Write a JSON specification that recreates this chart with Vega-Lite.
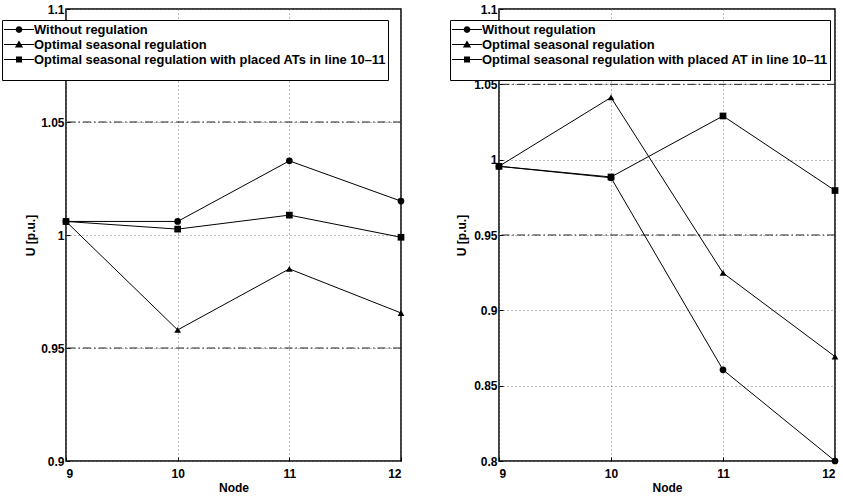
{
  "$schema": "https://vega.github.io/schema/vega-lite/v6.json",
  "padding": {"left": 0, "top": 2, "right": 0, "bottom": 0},
  "background": "white",
  "config": {
    "font": "Liberation Sans",
    "view": {"stroke": "black", "strokeWidth": 1.5},
    "axis": {
      "labelFont": "Liberation Sans", "labelFontWeight": "bold", "labelFontSize": 12, "labelColor": "black",
      "titleFont": "Liberation Sans", "titleFontWeight": "bold", "titleFontSize": 12, "titleColor": "black",
      "domain": false, "tickColor": "black", "tickSize": -4, "grid": true,
      "gridColor": "#777", "gridDash": [1, 3], "gridWidth": 1
    },
    "legend": {
      "fillColor": "white", "strokeColor": "black", "padding": 2,
      "labelFont": "Liberation Sans", "labelFontWeight": "bold", "labelFontSize": 12.9, "labelColor": "black",
      "labelLimit": 0,
      "symbolSize": 225, "symbolStrokeWidth": 0, "symbolFillColor": "black",
      "symbolOpacity": 1,
      "labelOffset": 15, "rowPadding": 0,
      "titleOrient": "bottom", "titleFontSize": 9, "titlePadding": 3
    }
  },
  "resolve": {"scale": {"shape": "independent"}, "legend": {"shape": "independent"}},
  "spacing": 38,
  "hconcat": [
    {
      "width": 335, "height": 452,
      "data": {"values": [
        {"node": 9, "series": "Without regulation", "U": 1.006},
        {"node": 10, "series": "Without regulation", "U": 1.006},
        {"node": 11, "series": "Without regulation", "U": 1.0328},
        {"node": 12, "series": "Without regulation", "U": 1.015},
        {"node": 9, "series": "Optimal seasonal regulation", "U": 1.006},
        {"node": 10, "series": "Optimal seasonal regulation", "U": 0.958},
        {"node": 11, "series": "Optimal seasonal regulation", "U": 0.985},
        {"node": 12, "series": "Optimal seasonal regulation", "U": 0.9655},
        {"node": 9, "series": "Optimal seasonal regulation with placed ATs in line 10–11", "U": 1.006},
        {"node": 10, "series": "Optimal seasonal regulation with placed ATs in line 10–11", "U": 1.0026},
        {"node": 11, "series": "Optimal seasonal regulation with placed ATs in line 10–11", "U": 1.0088},
        {"node": 12, "series": "Optimal seasonal regulation with placed ATs in line 10–11", "U": 0.999}
      ]},
      "resolve": {"scale": {"shape": "independent"}},
      "layer": [
        {
          "data": {"values": [{"lim": 0.95}, {"lim": 1.05}]},
          "mark": {"type": "rule", "color": "#222", "strokeDash": [8, 3, 1.5, 3], "strokeWidth": 1},
          "encoding": {
            "y": {"field": "lim", "type": "quantitative", "title": "U [p.u.]",
                  "scale": {"domain": [0.9, 1.1], "nice": false, "zero": false},
                  "axis": {"values": [0.9, 0.95, 1, 1.05, 1.1], "format": "~g", "labelPadding": 6, "titlePadding": 3}}
          }
        },
        {
          "mark": {"type": "line", "color": "black", "strokeWidth": 1},
          "encoding": {
            "x": {"field": "node", "type": "quantitative", "title": "Node",
                  "scale": {"domain": [9, 12], "nice": false, "zero": false},
                  "axis": {"values": [9, 10, 11, 12], "format": "d", "labelPadding": 11, "titlePadding": 3}},
            "y": {"field": "U", "type": "quantitative", "title": "U [p.u.]"},
            "detail": {"field": "series"},
            "order": {"field": "node"}
          }
        },
        {
          "mark": {"type": "point", "filled": true, "color": "black", "opacity": 1, "size": 45},
          "encoding": {
            "x": {"field": "node", "type": "quantitative", "title": "Node"},
            "y": {"field": "U", "type": "quantitative", "title": "U [p.u.]"},
            "shape": {"field": "series", "type": "nominal",
              "scale": {"domain": ["Without regulation", "Optimal seasonal regulation", "Optimal seasonal regulation with placed ATs in line 10–11"],
                        "range": ["circle", "triangle-up", "square"]},
              "legend": null
            }
          }
        },
        {
          "mark": {"type": "point", "filled": true, "fill": "black", "strokeWidth": 0, "opacity": 0},
          "encoding": {
            "x": {"field": "node", "type": "quantitative", "title": "Node"},
            "y": {"field": "U", "type": "quantitative", "title": "U [p.u.]"},
            "shape": {"field": "series", "type": "nominal",
              "scale": {"domain": ["Without regulation", "Optimal seasonal regulation", "Optimal seasonal regulation with placed ATs in line 10–11"],
                        "range": ["M-1,-0.067H3V0.067H-1ZM1.45,0A0.45,0.45,0,1,1,0.55,0A0.45,0.45,0,1,1,1.45,0Z", "M-1,-0.067H3V0.067H-1ZM1,-0.55L1.55,0.4L0.45,0.4Z", "M-1,-0.067H3V0.067H-1ZM0.6,-0.4H1.4V0.4H0.6Z"]},
              "legend": {"orient": "none", "legendX": -64, "legendY": 11, "title": " ", "symbolOpacity": 1,
                         "symbolFillColor": "black"}
            }
          }
        }
      ]
    },
    {
      "width": 336, "height": 452,
      "data": {"values": [
        {"node": 9, "series": "Without regulation", "U": 0.9956},
        {"node": 10, "series": "Without regulation", "U": 0.988},
        {"node": 11, "series": "Without regulation", "U": 0.8605},
        {"node": 12, "series": "Without regulation", "U": 0.8},
        {"node": 9, "series": "Optimal seasonal regulation", "U": 0.9956},
        {"node": 10, "series": "Optimal seasonal regulation", "U": 1.0413},
        {"node": 11, "series": "Optimal seasonal regulation", "U": 0.9248},
        {"node": 12, "series": "Optimal seasonal regulation", "U": 0.8693},
        {"node": 9, "series": "Optimal seasonal regulation with placed AT in line 10–11", "U": 0.9956},
        {"node": 10, "series": "Optimal seasonal regulation with placed AT in line 10–11", "U": 0.9885},
        {"node": 11, "series": "Optimal seasonal regulation with placed AT in line 10–11", "U": 1.029},
        {"node": 12, "series": "Optimal seasonal regulation with placed AT in line 10–11", "U": 0.9795}
      ]},
      "resolve": {"scale": {"shape": "independent"}},
      "layer": [
        {
          "data": {"values": [{"lim": 0.95}, {"lim": 1.05}]},
          "mark": {"type": "rule", "color": "#222", "strokeDash": [8, 3, 1.5, 3], "strokeWidth": 1},
          "encoding": {
            "y": {"field": "lim", "type": "quantitative", "title": "U [p.u.]",
                  "scale": {"domain": [0.8, 1.1], "nice": false, "zero": false},
                  "axis": {"values": [0.8, 0.85, 0.9, 0.95, 1, 1.05, 1.1], "format": "~g", "labelPadding": 6, "titlePadding": 5}}
          }
        },
        {
          "mark": {"type": "line", "color": "black", "strokeWidth": 1},
          "encoding": {
            "x": {"field": "node", "type": "quantitative", "title": "Node",
                  "scale": {"domain": [9, 12], "nice": false, "zero": false},
                  "axis": {"values": [9, 10, 11, 12], "format": "d", "labelPadding": 11, "titlePadding": 3}},
            "y": {"field": "U", "type": "quantitative", "title": "U [p.u.]"},
            "detail": {"field": "series"},
            "order": {"field": "node"}
          }
        },
        {
          "mark": {"type": "point", "filled": true, "color": "black", "opacity": 1, "size": 45},
          "encoding": {
            "x": {"field": "node", "type": "quantitative", "title": "Node"},
            "y": {"field": "U", "type": "quantitative", "title": "U [p.u.]"},
            "shape": {"field": "series", "type": "nominal",
              "scale": {"domain": ["Without regulation", "Optimal seasonal regulation", "Optimal seasonal regulation with placed AT in line 10–11"],
                        "range": ["circle", "triangle-up", "square"]},
              "legend": null
            }
          }
        },
        {
          "mark": {"type": "point", "filled": true, "fill": "black", "strokeWidth": 0, "opacity": 0},
          "encoding": {
            "x": {"field": "node", "type": "quantitative", "title": "Node"},
            "y": {"field": "U", "type": "quantitative", "title": "U [p.u.]"},
            "shape": {"field": "series", "type": "nominal",
              "scale": {"domain": ["Without regulation", "Optimal seasonal regulation", "Optimal seasonal regulation with placed AT in line 10–11"],
                        "range": ["M-1,-0.067H3V0.067H-1ZM1.45,0A0.45,0.45,0,1,1,0.55,0A0.45,0.45,0,1,1,1.45,0Z", "M-1,-0.067H3V0.067H-1ZM1,-0.55L1.55,0.4L0.45,0.4Z", "M-1,-0.067H3V0.067H-1ZM0.6,-0.4H1.4V0.4H0.6Z"]},
              "legend": {"orient": "none", "legendX": -49, "legendY": 11, "title": " ", "symbolOpacity": 1,
                         "symbolFillColor": "black"}
            }
          }
        }
      ]
    }
  ]
}
